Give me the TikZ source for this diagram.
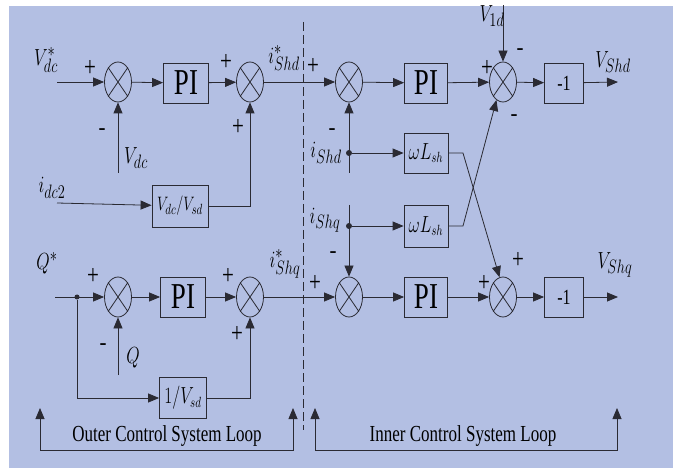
\documentclass[tikz,border=0pt]{standalone}
\usepackage{fontspec}
\setmainfont{Liberation Serif}
\usetikzlibrary{positioning,arrows.meta,shapes.geometric}
\definecolor{bgblue}{HTML}{B3BFE3}
\definecolor{ink}{HTML}{2A2A33}
\newcommand{\tallt}[1]{\scalebox{1}[1.35]{#1}}

\begin{document}
\begin{tikzpicture}[x=1pt, y=-1pt,
        b/.style={draw=ink, line width=0.8pt, minimum width=45pt, minimum height=40pt, inner sep=0pt, font=\fontsize{27}{27}\selectfont},
        sm/.style={draw=ink, line width=0.8pt, ellipse, minimum width=27pt, minimum height=40pt, inner sep=0pt},
        arr/.style={-{Triangle[length=11pt, width=9pt]}, line width=0.8pt, color=ink},
        ln/.style={line width=0.8pt, color=ink},
        lb/.style={font=\fontsize{19}{19}\selectfont, inner sep=0pt},
        sg/.style={font=\fontsize{21}{21}\selectfont, inner sep=0pt},
        dot/.style={circle, fill=ink, inner sep=0pt, minimum size=6pt}]
      \useasboundingbox (0,0) rectangle (673,468);
      \fill[white] (0,0) rectangle (673,468);
      \fill[bgblue] (9,6) rectangle (673,468);
      \clip (9,6) rectangle (673,468);
      % d axis
      \node[sm] (s1) at (118,82) {};
      \node[b] (p1) at (186,83) {\tallt{PI}};
      \node[sm] (s2) at (250,82) {};
      \node[sm] (s3) at (349,82) {};
      \node[b, minimum width=43pt] (p2) at (426,83) {\tallt{PI}};
      \node[sm] (s4) at (503,82) {};
      \node[b, minimum width=39pt, font=\fontsize{16}{16}\selectfont] (m1) at (564,83) {\tallt{-1}};
      \node[b, minimum width=56pt, minimum height=42pt, font=\fontsize{15}{15}\selectfont] (vb) at (180,206) {\tallt{$V_{dc}/V_{sd}$}};
      \node[b, minimum width=44pt, font=\fontsize{16}{16}\selectfont] (w1) at (426,153) {\tallt{$\omega L_{sh}$}};
      \node[b, minimum width=44pt, minimum height=42pt, font=\fontsize{16}{16}\selectfont] (w2) at (426,226) {\tallt{$\omega L_{sh}$}};
      % q axis
      \node[sm] (s1q) at (118,297) {};
      \node[b] (p3) at (183,297) {\tallt{PI}};
      \node[sm] (s2q) at (250,297) {};
      \node[sm] (s3q) at (349,297) {};
      \node[b, minimum width=43pt] (p4) at (426,297) {\tallt{PI}};
      \node[sm] (s4q) at (503,297) {};
      \node[b, minimum width=39pt, font=\fontsize{16}{16}\selectfont] (m2) at (564,297) {\tallt{-1}};
      \node[b, minimum width=47pt, minimum height=41pt, font=\fontsize{16}{16}\selectfont] (ib) at (183,398) {\tallt{$1/V_{sd}$}};
      \foreach \s in {s1,s2,s3,s4,s1q,s2q,s3q,s4q}
        \draw[ln] (\s.north west) -- (\s.south east) (\s.north east) -- (\s.south west);
      \node[dot] (d1) at (349,153) {};
      \node[dot] (d2) at (349,226) {};
      \node[dot, minimum size=5pt] (dq) at (77,297) {};
      \coordinate (vin) at (57,82);
      \coordinate (fb1) at (118,173);
      \coordinate (idc) at (57,203);
      \coordinate (v1d) at (503,0);
      \coordinate (ishd) at (349,173);
      \coordinate (ishq) at (349,205);
      \coordinate (k1) at (463,153);
      \coordinate (k2) at (463,226);
      \coordinate (od) at (618,82);
      \coordinate (qin) at (55,297);
      \coordinate (fbq) at (118,375);
      \coordinate (oq) at (618,297);
      \draw[arr] (vin) -- (s1); \draw[arr] (fb1) -- (s1);
      \draw[arr] (s1) -- (p1); \draw[arr] (p1) -- (s2);
      \draw[arr] (idc) -- (vb); \draw[arr] (vb.east) -| (s2.south);
      \draw[arr] (s2) -- (s3); \draw[arr] (ishd) -- (s3);
      \draw[arr] (s3) -- (p2); \draw[arr] (p2) -- (s4);
      \draw[arr] (v1d) -- (s4); \draw[arr] (s4) -- (m1); \draw[arr] (m1) -- (od);
      \draw[arr] (d1) -- (w1); \draw[arr] (d2) -- (w2);
      \draw[arr] (w1.east) -- (k1) -- (s4q.100);
      \draw[arr] (w2.east) -- (k2) -- (s4.250);
      \draw[arr] (qin) -- (s1q); \draw[arr] (fbq) -- (s1q);
      \draw[arr] (s1q) -- (p3); \draw[arr] (p3) -- (s2q);
      \draw[arr] (dq) |- (ib.west); \draw[arr] (ib.east) -| (s2q.south);
      \draw[arr] (s2q) -- (s3q); \draw[arr] (ishq) -- (s3q);
      \draw[arr] (s3q) -- (p4); \draw[arr] (p4) -- (s4q);
      \draw[arr] (s4q) -- (m2); \draw[arr] (m2) -- (oq);
      % signals
      \node[lb] (lvr) at (46,60) {\tallt{$V^{*}_{dc}$}};
      \node[lb] (lvd) at (136,158) {\tallt{$V_{dc}$}};
      \node[lb] (lid) at (52,188) {\tallt{$i_{dc2}$}};
      \node[lb] (lsd) at (284,58) {\tallt{$i^{*}_{Shd}$}};
      \node[lb] (lhd) at (326,153) {\tallt{$i_{Shd}$}};
      \node[lb] (lhq) at (325,220) {\tallt{$i_{Shq}$}};
      \node[lb] (l1d) at (492,16) {\tallt{$V_{1d}$}};
      \node[lb] (lod) at (613,62) {\tallt{$V_{Shd}$}};
      \node[lb] (lqr) at (47,263) {\tallt{$Q^{*}$}};
      \node[lb] (lq) at (133,358) {\tallt{$Q$}};
      \node[lb] (lsq) at (285,264) {\tallt{$i^{*}_{Shq}$}};
      \node[lb] (loq) at (615,265) {\tallt{$V_{Shq}$}};
      % signs
      \node[sg] (g1) at (90,68) {\tallt{+}};   \node[sg] (g2) at (102,132) {\textbf{-}};
      \node[sg] (g3) at (226,62) {\tallt{+}};  \node[sg] (g4) at (238,127) {\tallt{+}};
      \node[sg] (g5) at (313,66) {\tallt{+}};  \node[sg] (g6) at (332,132) {\textbf{-}};
      \node[sg] (g7) at (487,68) {\tallt{+}};  \node[sg] (g8) at (520,52) {\textbf{-}};
      \node[sg] (g9) at (514,118) {\textbf{-}};
      \node[sg] (g10) at (93,276) {\tallt{+}}; \node[sg] (g11) at (103,347) {\textbf{-}};
      \node[sg] (g12) at (228,276) {\tallt{+}}; \node[sg] (g13) at (237,334) {\tallt{+}};
      \node[sg] (g14) at (315,283) {\tallt{+}}; \node[sg] (g15) at (333,255) {\textbf{-}};
      \node[sg] (g16) at (484,283) {\tallt{+}}; \node[sg] (g17) at (518,260) {\tallt{+}};
      % loops
      \coordinate (dt) at (303,22);
      \coordinate (db) at (303,430);
      \draw[ln, dash pattern=on 9pt off 4pt] (dt) -- (db);
      \coordinate (ol) at (40,408); \coordinate (or) at (293,408); \coordinate (ob) at (40,450);
      \coordinate (il) at (315,408); \coordinate (ir) at (617,408); \coordinate (ib2) at (315,450);
      \draw[arr, {Triangle[length=11pt, width=9pt]}-{Triangle[length=11pt, width=9pt]}] (ol) -- (ob) -| (or);
      \draw[arr, {Triangle[length=11pt, width=9pt]}-{Triangle[length=11pt, width=9pt]}] (il) -- (ib2) -| (ir);
      \node[font=\fontsize{17}{17}\selectfont] (tout) at (167,436) {\tallt{Outer Control System Loop}};
      \node[font=\fontsize{17}{17}\selectfont] (tin) at (463,436) {\tallt{Inner Control System Loop}};
\end{tikzpicture}
\end{document}
